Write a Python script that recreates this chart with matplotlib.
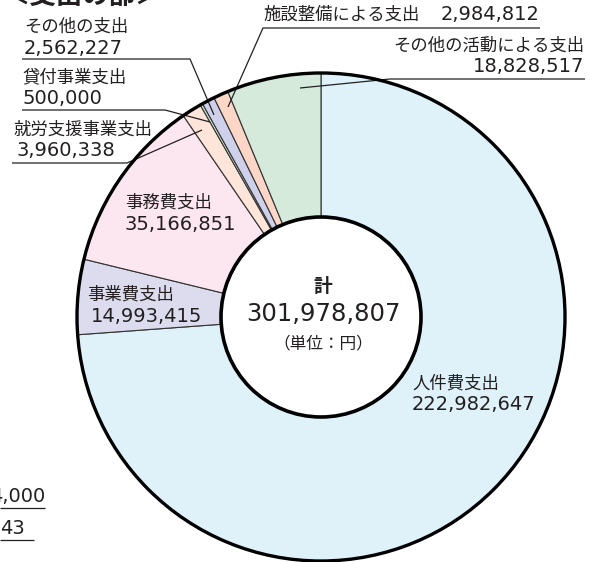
import matplotlib.pyplot as plt
from matplotlib.patches import Circle

plt.rcParams['font.family'] = ['Noto Sans CJK JP', 'DejaVu Sans']

# slices, clockwise from 12 o'clock
categories = ['人件費支出', '事業費支出', '事務費支出', '就労支援事業支出',
              '貸付事業支出', 'その他の支出', '施設整備による支出', 'その他の活動による支出']
values = [222982647, 14993415, 35166851, 3960338,
          500000, 2562227, 2984812, 18828517]
colors = ['#dff2fa', '#dcdcee', '#fce6ef', '#fde5da',
          '#d3ebd6', '#cfd0ea', '#fcd6c6', '#d5eadb']
total_label = '301,978,807'

W, H = 591, 562
CX, CY, R_OUT, R_IN = 321, 317, 244, 100
INK = '#231f20'
NUM_FONT = ['DejaVu Sans']


def fmt(v):
    return f'{v:,}'


def label(x, y, txt, size=12.5, ha='left', **kw):
    ax.text(x, y, txt, fontsize=size, ha=ha, va='center', color=INK, **kw)


def number(x, y, txt, size=14, ha='left', **kw):
    ax.text(x, y, txt, fontsize=size, ha=ha, va='center', color=INK,
            family=NUM_FONT, **kw)


def leader(pts):
    xs, ys = zip(*pts)
    ax.plot(xs, ys, color=INK, lw=0.9, solid_capstyle='butt')


fig = plt.figure(figsize=(W / 100, H / 100), dpi=100)
ax = fig.add_axes([0, 0, 1, 1])

# y axis points down (pixel space), so counterclock=True draws clockwise
ax.pie(values, colors=colors, startangle=-90, counterclock=True,
       center=(CX, CY), radius=R_OUT,
       wedgeprops=dict(width=R_OUT - R_IN, edgecolor='#333333', linewidth=0.8))

ax.add_patch(Circle((CX, CY), R_OUT, fill=False, edgecolor='black', lw=2.4, zorder=3))
ax.add_patch(Circle((CX, CY), R_IN, facecolor='white', edgecolor='black', lw=2.6, zorder=3))

ax.set_xlim(0, W)
ax.set_ylim(H, 0)
ax.set_aspect('equal')
ax.axis('off')

# centre
label(CX + 2, 286, '計', size=13.5, ha='center', fontweight='bold')
number(CX + 2, 314, total_label, size=17.5, ha='center')
label(CX + 2, 344, '（単位：円）', size=12, ha='center')

# title (cut off at top)
label(3, -4, '＜支出の部＞', size=19, fontweight='bold')

# labels inside the ring
label(412, 384, categories[0])
number(412, 405, fmt(values[0]))
label(87, 295, categories[1])
number(91, 316, fmt(values[1]))
label(125, 203, categories[2])
number(125, 225, fmt(values[2]))

# outside labels with leaders
label(13, 130, categories[3])
number(16, 151, fmt(values[3]))
leader([(12, 163), (127, 163), (202, 130)])

label(22, 77, categories[4])
number(22, 99, fmt(values[4]))
leader([(22, 110), (165, 110), (210, 122)])

label(24, 27, categories[5])
number(24, 48, fmt(values[5]))
leader([(22, 59), (190, 59), (214, 115)])

label(263, 15, categories[6])
number(540, 15, fmt(values[6]), ha='right')
leader([(540, 28), (263, 28), (228, 107)])

label(584, 46, categories[7], ha='right')
number(584, 67, fmt(values[7]), ha='right')
leader([(585, 79), (390, 79), (300, 88)])

# remnants of neighbouring chart at left edge
number(45, 497, '4,000', ha='right')
leader([(0, 508), (45, 508)])
number(0, 528, '43')
leader([(0, 540), (34, 540)])

fig.savefig('out.png', dpi=100)
